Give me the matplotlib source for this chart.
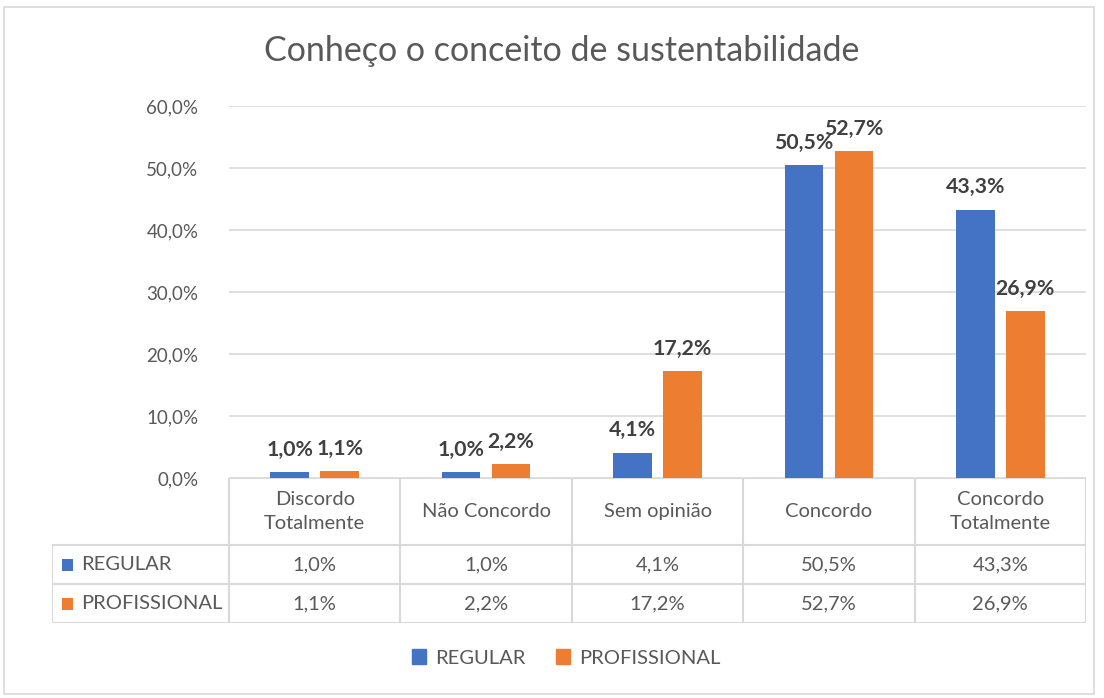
import numpy as np
import matplotlib
matplotlib.use("Agg")
import matplotlib.pyplot as plt
from matplotlib.patches import Patch, Rectangle

# data
categories = ["Discordo\nTotalmente", "Não Concordo", "Sem opinião", "Concordo", "Concordo\nTotalmente"]
series_names = ["REGULAR", "PROFISSIONAL"]
regular = [1.0, 1.0, 4.1, 50.5, 43.3]
profissional = [1.1, 2.2, 17.2, 52.7, 26.9]
yticks = [0, 10, 20, 30, 40, 50, 60]

colours = ["#4472C4", "#ED7D31"]
txt = "#595959"
grid = "#D9D9D9"

plt.rcParams["font.family"] = ["Lato", "DejaVu Sans"]

W, H = 1104, 698
fig = plt.figure(figsize=(W / 100, H / 100), dpi=100)

def box(x0, y0, x1, y1):
    # pixel box (top-left origin) -> figure fraction rect
    return [x0 / W, 1 - y1 / H, (x1 - x0) / W, (y1 - y0) / H]

# outer frame
fig.patches.append(Rectangle((4 / W, 1 - 694 / H), 1090 / W, 687 / H, transform=fig.transFigure,
                             fill=False, edgecolor=grid, lw=1.2))

fig.text(562 / W, 1 - 51 / H, "Conheço o conceito de sustentabilidade", ha="center", va="center",
         fontsize=24.5, color=txt)

# bar area
ax = fig.add_axes(box(229, 106, 1086, 478))
x = np.arange(len(categories))
w = 0.225
off = 0.146
vals = [regular, profissional]
for i, (name, v) in enumerate(zip(series_names, vals)):
    xs = x + (-off if i == 0 else off)
    ax.bar(xs, v, width=w, color=colours[i], zorder=3)
    for xi, vi in zip(xs, v):
        ax.annotate(f"{vi:.1f}%".replace(".", ","), (xi, vi), xytext=(0, 16), textcoords="offset points",
                    ha="center", va="center", fontsize=15.3, fontweight="bold", color="#404040")
ax.set_xlim(-0.5, len(categories) - 0.5)
ax.set_ylim(0, 60)
ax.set_yticks(yticks)
ax.set_yticklabels([f"{t:.1f}%".replace(".", ",") for t in yticks])
ax.tick_params(axis="y", length=0, pad=22, labelsize=13.5, labelcolor=txt)
ax.set_xticks([])
ax.yaxis.grid(True, color=grid, lw=1.2, zorder=0)
for s in ax.spines.values():
    s.set_visible(False)

# data table below the bars
colw = 857 / len(categories)
lab_w = 177 / colw
tab = fig.add_axes(box(52, 478, 1086, 623))
tab.set_xlim(-0.5 - lab_w, len(categories) - 0.5)
tab.set_ylim(145, 0)
tab.axis("off")
rows = [0, 67, 106, 145]
left = -0.5 - lab_w
lkw = dict(color=grid, lw=1.5, solid_capstyle="butt")
tab.plot([-0.5, len(categories) - 0.5], [rows[0], rows[0]], **lkw)
for r in rows[1:]:
    tab.plot([left, len(categories) - 0.5], [r, r], **lkw)
tab.plot([left, left], [rows[1], rows[3]], **lkw)
for k in range(len(categories) + 1):
    tab.plot([k - 0.5, k - 0.5], [rows[0], rows[3]], **lkw)
fs = 14.5
for k, c in enumerate(categories):
    tab.text(k, (rows[0] + rows[1]) / 2, c, ha="center", va="center", fontsize=fs, color=txt,
             linespacing=1.55)
for i, (name, v) in enumerate(zip(series_names, vals)):
    yc = (rows[i + 1] + rows[i + 2]) / 2
    tab.add_patch(Rectangle((left + 10 / colw, yc - 6), 11 / colw, 12, color=colours[i], lw=0))
    tab.text(left + 29 / colw, yc, name, ha="left", va="center", fontsize=fs, color=txt)
    for k, vi in enumerate(v):
        tab.text(k, yc, f"{vi:.1f}%".replace(".", ","), ha="center", va="center", fontsize=fs, color=txt)

handles = [Patch(color=c) for c in colours]
fig.legend(handles, series_names, loc="center", bbox_to_anchor=(566 / W, 1 - 658 / H), ncol=2,
           frameon=False, fontsize=14.5, labelcolor=txt, handlelength=0.7, handleheight=0.7,
           handletextpad=0.45, columnspacing=1.5)

fig.savefig("out.png", dpi=100)
